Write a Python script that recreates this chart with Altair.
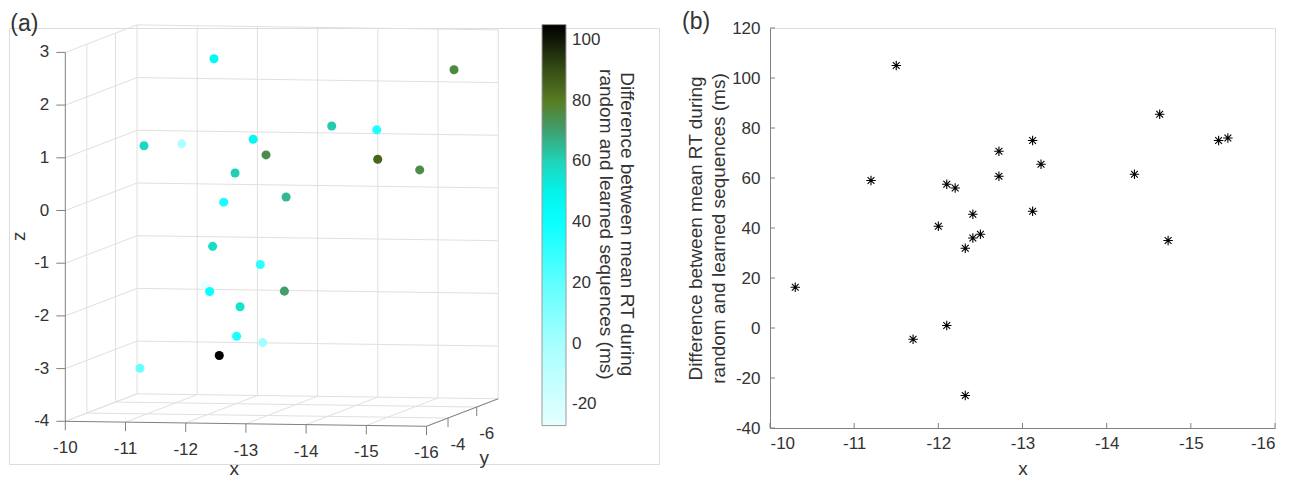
import altair as alt
import pandas as pd

# ---------------- data ----------------
# one entry per participant: x, y, z (3-D position) and RT difference (ms)
pt_x = [-12.32, -10.3, -11.2, -11.5, -11.7, -12.0, -12.1, -12.1, -12.2, -12.32, -12.41,
        -12.41, -12.5, -12.72, -12.72, -13.12, -13.12, -13.22, -14.33, -14.63, -14.73,
        -15.33, -15.44]
pt_y = [-2.5, -6.45, -2.95, -6.94, -3.48, -4.17, -3.96, -7.45, -5.45, -6.36, -2.75,
        -4.33, -3.05, -2.92, -6.36, -3.4, -2.5, -4.38, -2.9, -4.85, -4.36,
        -4.84, -6.77]
pt_z = [-1.38, -3.40, 1.20, -3.19, 1.19, -1.68, -0.80, -2.99, -2.10, -1.39, 2.89,
        -2.54, 0.14, 0.71, -1.89, 1.01, 1.40, 0.11, 1.63, 0.80, 1.41,
        0.61, 2.31]
pt_diff = [-27, 16.3, 59, 105, -4.5, 40.7, 57.5, 1, 56, 31.9, 45.5,
           36, 37.5, 60.7, 70.7, 75, 46.7, 65.5, 61.5, 85.5, 35,
           75, 76]

# axis ticks / limits of the 3-D panel
x_ticks = [-10, -11, -12, -13, -14, -15, -16]
y_ticks = [-4, -6]
z_ticks = [-4, -3, -2, -1, 0, 1, 2, 3]
x_lim = [-10, -16]
y_lim = [-2.5, -7.5]
z_lim = [-4, 3]

# colorbar
cbar_ticks = [-20, 0, 20, 40, 60, 80, 100]
cmap_stops = [-27, 0, 20, 42, 52, 60, 65, 70, 75, 80, 88, 96, 105]
cmap_colors = ["#e6ffff", "#a6ffff", "#60ffff", "#00ffff", "#05f0e6", "#1fd4b8",
               "#30ba98", "#3fa070", "#4b8c48", "#5a7c22", "#3f5a1a", "#1c2a0c", "#000000"]

# panel (b) ticks
b_x_ticks = [-10, -11, -12, -13, -14, -15, -16]
b_y_ticks = [-40, -20, 0, 20, 40, 60, 80, 100, 120]

FONT = "Liberation Sans"
TXT = "#333333"
AXC = "#808080"
GRIDC = "#e0e0e0"

# ---------------- 3-D projection (orthographic view) ----------------
W_A, H_A = 650, 436
OX, OY = 56.3, 393.3
PX, PXY = 60.2, 0.83
PY, PYY = 14.34, 5.5
PZ = 52.7
X0, Y0, Z0 = x_lim[0], y_lim[0], z_lim[0]


def sx(xf, yf):
    return f"{OX} + {PX}*(({X0}) - datum.{xf}) + {PY}*(({Y0}) - datum.{yf})"


def sy(xf, yf, zf):
    return (f"{OY} + {PXY}*(({X0}) - datum.{xf}) - {PYY}*(({Y0}) - datum.{yf})"
            f" - {PZ}*(datum.{zf} - ({Z0}))")


xs = alt.Scale(domain=[0, W_A], nice=False, zero=False)
ys = alt.Scale(domain=[0, H_A], nice=False, zero=False, reverse=True)


def X(f):
    return alt.X(f + ":Q", scale=xs, axis=None)


def Y(f):
    return alt.Y(f + ":Q", scale=ys, axis=None)


# grid segments on the three back planes
segs = []
for xv in x_ticks:
    segs.append((xv, y_lim[1], z_lim[0], xv, y_lim[1], z_lim[1]))
    segs.append((xv, y_lim[0], z_lim[0], xv, y_lim[1], z_lim[0]))
for zv in z_ticks:
    segs.append((x_lim[0], y_lim[1], zv, x_lim[1], y_lim[1], zv))
    segs.append((x_lim[0], y_lim[0], zv, x_lim[0], y_lim[1], zv))
for yv in y_ticks:
    segs.append((x_lim[0], yv, z_lim[0], x_lim[0], yv, z_lim[1]))
    segs.append((x_lim[0], yv, z_lim[0], x_lim[1], yv, z_lim[0]))
grid_df = pd.DataFrame(segs, columns=["x1", "y1", "z1", "x2", "y2", "z2"])

axes_df = pd.DataFrame([
    (x_lim[0], y_lim[0], z_lim[0], x_lim[0], y_lim[0], z_lim[1]),
    (x_lim[0], y_lim[0], z_lim[0], x_lim[1], y_lim[0], z_lim[0]),
    (x_lim[1], y_lim[0], z_lim[0], x_lim[1], y_lim[1], z_lim[0]),
], columns=["x1", "y1", "z1", "x2", "y2", "z2"])


def seg_layer(df, color):
    return alt.Chart(df).transform_calculate(
        a=sx("x1", "y1"), b=sy("x1", "y1", "z1"),
        c=sx("x2", "y2"), d=sy("x2", "y2", "z2")
    ).mark_rule(color=color, strokeWidth=1).encode(x=X("a"), y=Y("b"), x2="c:Q", y2="d:Q")


grid = seg_layer(grid_df, GRIDC)
axes_lines = seg_layer(axes_df, AXC)

xt_df = pd.DataFrame({"x": x_ticks, "y": [y_lim[0]] * len(x_ticks), "z": [z_lim[0]] * len(x_ticks),
                      "lab": [str(v) for v in x_ticks]})
yt_df = pd.DataFrame({"x": [x_lim[1]] * len(y_ticks), "y": y_ticks, "z": [z_lim[0]] * len(y_ticks),
                      "lab": [str(v) for v in y_ticks]})
zt_df = pd.DataFrame({"x": [x_lim[0]] * len(z_ticks), "y": [y_lim[0]] * len(z_ticks), "z": z_ticks,
                      "lab": [str(v) for v in z_ticks]})


def proj(df):
    return alt.Chart(df).transform_calculate(px=sx("x", "y"), py=sy("x", "y", "z"))


xt_marks = proj(xt_df).transform_calculate(py2="datum.py + 9").mark_rule(color=AXC).encode(
    x=X("px"), y=Y("py"), y2="py2:Q")
yt_marks = proj(yt_df).transform_calculate(py2="datum.py + 9").mark_rule(color=AXC).encode(
    x=X("px"), y=Y("py"), y2="py2:Q")
zt_marks = proj(zt_df).transform_calculate(px2="datum.px - 9").mark_rule(color=AXC).encode(
    x=X("px"), x2="px2:Q", y=Y("py"))

lab_style = dict(font=FONT, fontSize=17, color=TXT)
xt_labs = proj(xt_df).mark_text(align="center", baseline="middle", dy=27, **lab_style).encode(
    x=X("px"), y=Y("py"), text="lab:N")
yt_labs = proj(yt_df).mark_text(align="center", baseline="middle", dx=10, dy=27, **lab_style).encode(
    x=X("px"), y=Y("py"), text="lab:N")
zt_labs = proj(zt_df).mark_text(align="right", baseline="middle", dx=-16, **lab_style).encode(
    x=X("px"), y=Y("py"), text="lab:N")

pts_df = pd.DataFrame({"x": pt_x, "y": pt_y, "z": pt_z, "diff": pt_diff})
points3d = proj(pts_df).mark_circle(size=82, opacity=1).encode(
    x=X("px"), y=Y("py"),
    color=alt.Color("diff:Q",
                    scale=alt.Scale(domain=cmap_stops, range=cmap_colors, interpolate="rgb"),
                    legend=alt.Legend(orient="none", legendX=533, legendY=-3.4, direction="vertical",
                                      gradientLength=401, gradientThickness=24, title=None,
                                      values=cbar_ticks, labelFontSize=17, labelColor=TXT,
                                      labelFont=FONT, labelOffset=6, labelExpr="datum.value + ''",
                                      gradientStrokeColor="#9a9a9a", gradientStrokeWidth=1,
                                      padding=0)))


def text_ann(txt, x, y, **kw):
    d = pd.DataFrame({"t": [txt]})
    return alt.Chart(d).mark_text(font=FONT, color=TXT, **kw).encode(
        text="t:N", x=alt.value(x), y=alt.value(y))


x_title = text_ann("x", 225.3, 441, fontSize=19, align="center", baseline="middle")
y_title = text_ann("y", 475.3, 430, fontSize=19, align="center", baseline="middle")
z_title = text_ann("z", 10.3, 208.3, fontSize=19, align="center", baseline="middle", angle=270)
a_lab = text_ann("(a)", 1.3, -15.2, fontSize=23, align="left", baseline="top")
cb_title = text_ann("Difference between mean RT during\nrandom and learned sequences (ms)", 618, 196.3,
                    fontSize=19, align="center", baseline="middle", angle=90, lineBreak="\n",
                    lineHeight=21)

panel_a = alt.layer(grid, axes_lines, xt_marks, yt_marks, zt_marks, xt_labs, yt_labs, zt_labs,
                    points3d, x_title, y_title, z_title, a_lab, cb_title).properties(
    width=W_A, height=H_A)

# ---------------- panel (b) ----------------
asterisk = "M-1,0L1,0M0,-1L0,1M-0.72,-0.72L0.72,0.72M-0.72,0.72L0.72,-0.72"
bx_scale = alt.Scale(domain=[-16, -10], reverse=True, nice=False, zero=False)
by_scale = alt.Scale(domain=[-40, 120], nice=False, zero=False)
bx_axis = alt.Axis(values=b_x_ticks, title="x", grid=False, ticks=False, tickSize=0,
                   labelFontSize=17, labelColor=TXT, labelFont=FONT, labelPadding=7,
                   labelExpr="datum.value + ''", domainColor=AXC, titleFontSize=19,
                   titleFont=FONT, titleColor=TXT, titleFontWeight="normal", titlePadding=8)
by_axis = alt.Axis(values=b_y_ticks, title=["Difference between mean RT during",
                                            "random and learned sequences (ms)"],
                   grid=False, ticks=False, tickSize=0, labelFontSize=17, labelColor=TXT,
                   labelFont=FONT, labelPadding=10, labelExpr="datum.value + ''",
                   domainColor=AXC, titleFontSize=19, titleFont=FONT, titleColor=TXT,
                   titleFontWeight="normal", titlePadding=3, titleLineHeight=23)

b_pts = alt.Chart(pd.DataFrame({"x": pt_x, "diff": pt_diff})).mark_point(
    shape=asterisk, size=90, filled=False, color="black", strokeWidth=1.1, opacity=1).encode(
    x=alt.X("x:Q", scale=bx_scale, axis=bx_axis),
    y=alt.Y("diff:Q", scale=by_scale, axis=by_axis))
b_xt = alt.Chart(pd.DataFrame({"x": b_x_ticks})).mark_rule(color=AXC).encode(
    x=alt.X("x:Q", scale=bx_scale, axis=bx_axis), y=alt.value(400), y2=alt.value(395))
b_yt = alt.Chart(pd.DataFrame({"diff": b_y_ticks})).mark_rule(color=AXC).encode(
    y=alt.Y("diff:Q", scale=by_scale, axis=by_axis), x=alt.value(0), x2=alt.value(5))
b_lab = text_ann("(b)", -88, -16.7, fontSize=23, align="left", baseline="top")

panel_b = alt.layer(b_xt, b_yt, b_pts, b_lab).properties(width=505, height=400)

chart = alt.hconcat(panel_a, panel_b, spacing=21).properties(
    padding={"top": 2, "left": 0, "right": 0, "bottom": 0}).configure_view(
    strokeWidth=0).configure(font=FONT)

chart.save("out.html", embed_options={"renderer": "svg", "actions": False})
